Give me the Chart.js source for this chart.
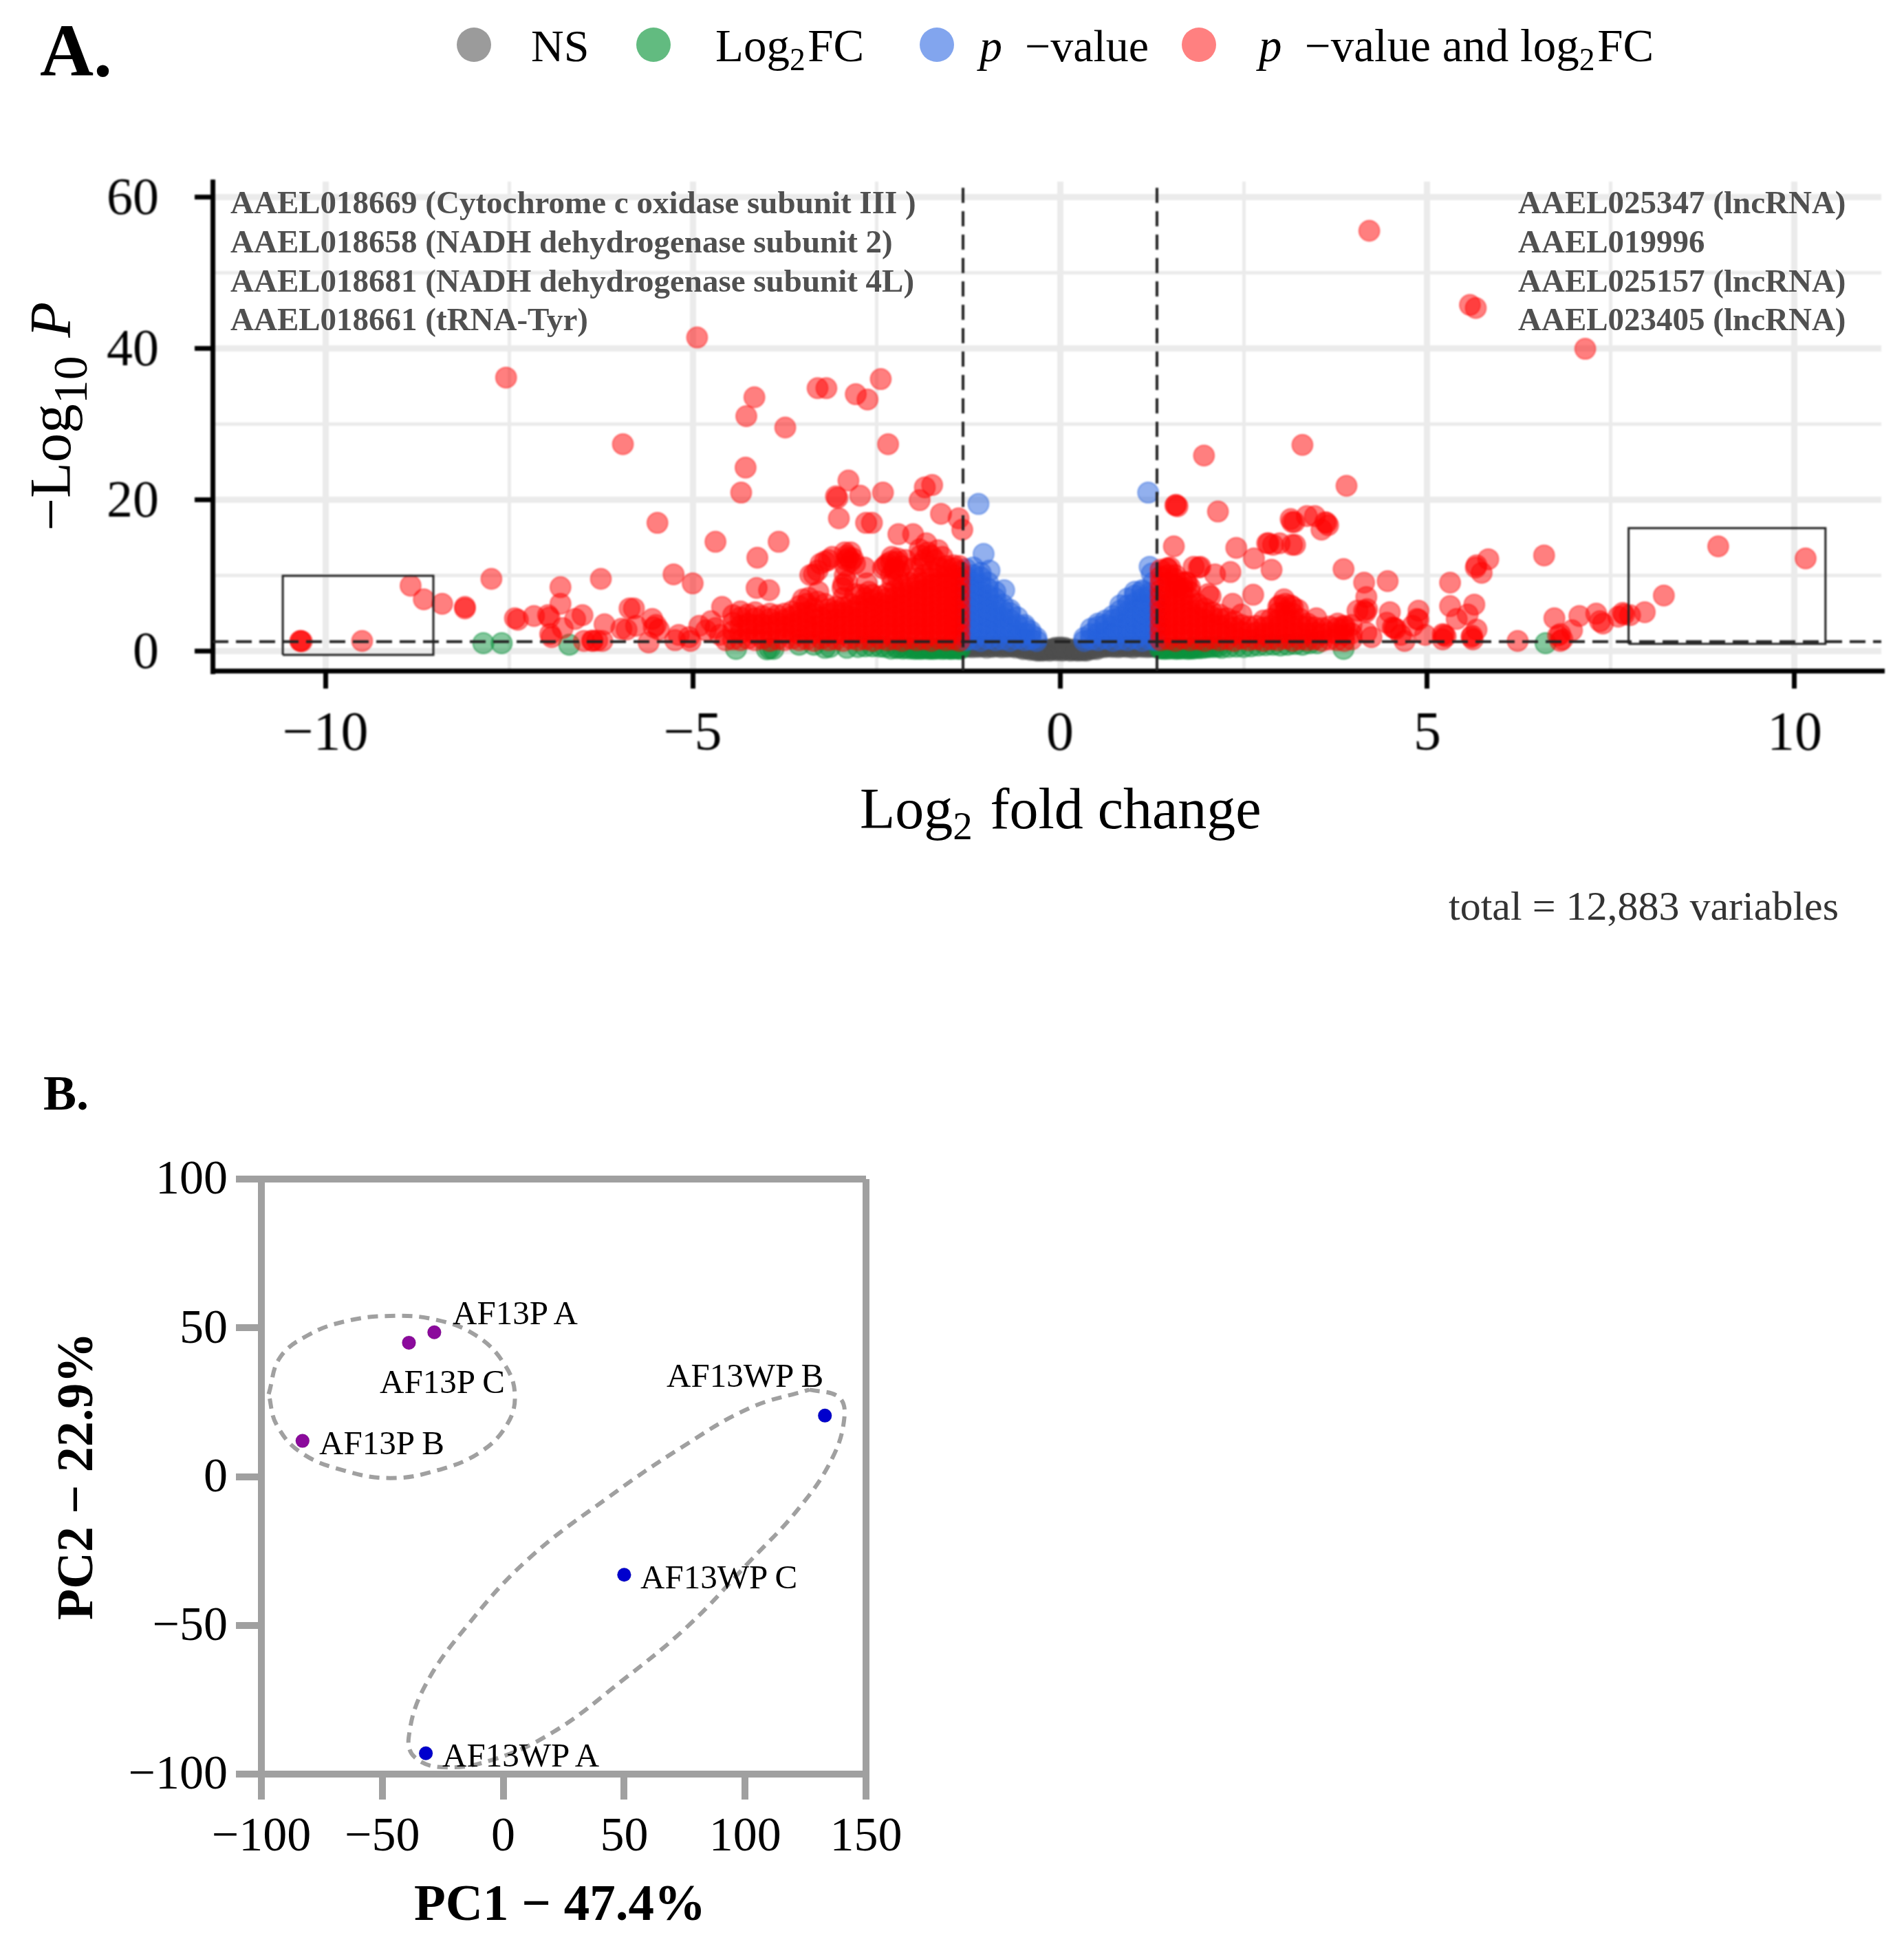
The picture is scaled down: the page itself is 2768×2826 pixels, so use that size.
<!DOCTYPE html>
<html>
<head>
<meta charset="utf-8">
<title>Volcano and PCA</title>
<script src="https://cdn.jsdelivr.net/npm/chart.js@4"></script>
<style>
html, body { margin: 0; padding: 0; background: #fff; }
body { position: relative; width: 2768px; height: 2826px; overflow: hidden; font-family: "Liberation Serif", serif; color: #000; }
canvas { position: absolute; left: 0; }
#volcano { top: 0; filter: blur(0.8px); }
#pca { top: 1450px; }
.t { position: absolute; white-space: nowrap; line-height: normal; }
.t sub { font-size: 68%; vertical-align: -0.28em; line-height: 0; margin-right: 0.08em; }
.t.big sub { font-size: 82%; vertical-align: -0.34em; }
.dot { position: absolute; width: 50px; height: 50px; border-radius: 50%; }
</style>
</head>
<body>
<canvas id="volcano" width="2768" height="1400"></canvas>
<canvas id="pca" width="2768" height="1376"></canvas>
<script>
// panel A values, [log2FC, -log10P]
var nsPoints = [
[-1.3,0.5],[-1.2,0.45],[-1.1,0.5],[-1,0.4],[-0.9,0.5],[-0.8,0.45],[-0.7,0.5],[-0.6,0.4],[-0.5,0.35],[-0.45,0.3],[-0.4,0.1],
[-0.32,0.05],[-0.25,0],[-0.2,0.1],[-0.15,0],[-0.1,0.2],[-0.06,0.4],[-0.03,0.1],[0,0.45],[0.03,0],[0.06,0.4],[0.1,0.15],[0.15,0],[0.2,0.1],[0.25,0],[0.3,0.05],[0.36,0],
[0.42,0.2],[0.5,0.4],[0.6,0.45],[0.7,0.5],[0.8,0.45],[0.9,0.5],[1,0.4],[1.1,0.5],[1.2,0.45],[1.3,0.5],
[-1.25,0.55],[-1.05,0.55],[-0.85,0.6],[-0.65,0.55],[0.65,0.55],[0.85,0.55],[1.05,0.6],[1.25,0.55],
[-1.28,0.5],[-1.15,0.5],[-0.95,0.5],[-0.75,0.5],[-0.55,0.45],[0.55,0.45],[0.75,0.5],[0.95,0.5],[1.15,0.5],[1.28,0.5],
[-1.22,0.6],[-1.12,0.6],[-1.02,0.6],[-0.92,0.6],[-0.82,0.6],[-0.72,0.6],[-0.62,0.6],[0.62,0.6],[0.72,0.6],[0.82,0.6],[0.92,0.6],[1.02,0.6],[1.12,0.6],[1.22,0.6],
[-0.3,0],[-0.27,0.1],[-0.22,0.05],[-0.18,0.2],[-0.12,0.05],[-0.08,0.3],[-0.05,0.05],[-0.02,0.35],[0.02,0.35],[0.05,0.1],[0.08,0.3],[0.12,0.05],[0.18,0.2],[0.22,0.05],[0.28,0.1],[0.33,0.05],[-0.35,0.15],[0.38,0.15],[-0.42,0.25],[0.45,0.25],[-0.5,0.2],[0.5,0.2]
];
var log2fcPoints = [
[-7.85,1],[-7.6,1],[-6.68,0.8],[-4.41,0.25],[-3.99,0.2],[-3.95,0.3],[-3.9,0.25],[-3.55,0.8],[-3.35,0.8],[-3.2,0.4],[-3.13,0.5],[-2.9,0.4],[-2.75,0.5],[-2.65,0.6],[-2.55,0.6],[-2.45,0.55],[-2.38,0.5],
[-2.3,0.3],[-2.22,0.35],[-2.14,0.3],[-2.05,0.3],[-1.98,0.25],[-1.9,0.25],[-1.84,0.3],[-1.78,0.25],[-1.72,0.25],[-1.66,0.3],[-1.6,0.25],[-1.54,0.3],[-1.48,0.25],[-1.42,0.3],[-1.36,0.25],
[-2.2,0.45],[-2,0.4],[-1.8,0.4],[-1.6,0.45],[-1.4,0.4],[-2.1,0.4],[-1.94,0.3],[-1.87,0.35],[-1.75,0.3],[-1.68,0.35],[-1.57,0.35],[-1.5,0.3],[-1.44,0.35],[-1.38,0.3],
[1.36,0.3],[1.42,0.25],[1.5,0.3],[1.58,0.25],[1.66,0.3],[1.74,0.25],[1.82,0.3],[1.9,0.35],[2,0.45],[2.1,0.5],[2.2,0.4],[2.3,0.5],[2.4,0.55],[2.5,0.5],[2.6,0.6],[2.7,0.7],[2.8,0.75],[2.9,0.8],[3,0.7],[3.1,0.8],[3.2,0.9],[3.3,0.8],[3.4,1],[3.5,1],
[3.86,0.25],[6.61,1],
[1.4,0.4],[1.6,0.4],[1.8,0.45],[2.15,0.55],[1.38,0.35],[1.46,0.3],[1.54,0.35],[1.62,0.3],[1.7,0.35],[1.78,0.3],[1.86,0.4],[1.95,0.4],[2.05,0.5]
];
var pvaluePoints = [
[-1.11,19.4],[-1.04,12.8],[-0.96,10.6],[-0.76,8],[1.2,20.9],[1.22,11.1],[1.25,10.2],[1.27,9],
[-1.28,1.4],[-1.28,2.4],[-1.28,3.3],[-1.28,4.3],[-1.28,5.2],[-1.28,6.1],[-1.28,7.1],[-1.28,8],[-1.28,8.9],[-1.28,9.8],[-1.28,10.8],
[-1.18,1.5],[-1.18,2.5],[-1.18,3.5],[-1.18,4.4],[-1.18,5.3],[-1.18,6.3],[-1.18,7.2],[-1.18,8.1],[-1.18,9],[-1.18,10],[-1.18,11],
[-1.08,1.3],[-1.08,2.2],[-1.08,3.2],[-1.08,4.1],[-1.08,5],[-1.08,6],[-1.08,6.9],[-1.08,7.8],[-1.08,8.7],[-1.08,9.7],[-1.08,10.3],
[-0.98,1.6],[-0.98,2.6],[-0.98,3.5],[-0.98,4.5],[-0.98,5.4],[-0.98,6.3],[-0.98,7.3],[-0.98,8.2],[-0.98,9],
[-0.88,1.4],[-0.88,2.3],[-0.88,3.3],[-0.88,4.2],[-0.88,5.1],[-0.88,6],[-0.88,6.9],[-0.88,7.8],
[-0.78,1.5],[-0.78,2.5],[-0.78,3.4],[-0.78,4.4],[-0.78,5.3],[-0.78,6.1],
[-0.68,1.3],[-0.68,2.2],[-0.68,3.2],[-0.68,4.1],[-0.68,5],[-0.68,5.4],
[-0.58,1.6],[-0.58,2.5],[-0.58,3.4],[-0.58,4.4],
[-0.48,1.4],[-0.48,2.3],[-0.48,3.1],[-0.48,3.4],
[-0.4,1.5],[-0.4,2.2],[-0.4,2.6],[-0.32,1.3],[-0.32,1.7],
[0.33,1.3],[0.33,1.7],[0.42,1.5],[0.42,2.2],[0.42,2.9],
[0.52,1.4],[0.52,2.3],[0.52,3.2],[0.52,3.6],
[0.62,1.6],[0.62,2.5],[0.62,3.4],[0.62,4],
[0.72,1.3],[0.72,2.2],[0.72,3.2],[0.72,4.1],[0.72,4.6],
[0.82,1.5],[0.82,2.5],[0.82,3.4],[0.82,4.4],[0.82,5.3],[0.82,6],
[0.92,1.4],[0.92,2.3],[0.92,3.3],[0.92,4.2],[0.92,5.1],[0.92,6],[0.92,6.9],
[1.02,1.6],[1.02,2.6],[1.02,3.5],[1.02,4.5],[1.02,5.4],[1.02,6.3],[1.02,7.3],[1.02,7.8],
[1.12,1.3],[1.12,2.2],[1.12,3.2],[1.12,4.1],[1.12,5],[1.12,6],[1.12,6.9],[1.12,7.8],[1.12,8],
[1.22,1.5],[1.22,2.5],[1.22,3.4],[1.22,4.4],[1.22,5.3],[1.22,6.2],[1.22,7.2],[1.22,7.6],
[1.3,1.4],[1.3,2.3],[1.3,3.3],[1.3,4.2],[1.3,5.1],[1.3,6],[1.3,6.9]
];
var bothPoints = [
// far left
[-10.34,1.3],[-10.34,1.3],[-10.32,1.25],[-9.5,1.3],[-8.84,8.6],[-8.66,6.8],[-8.41,6.2],[-8.1,5.8],[-8.1,5.6],[-7.74,9.5],[-7.54,36.1],
[-7.42,4.3],[-7.38,4.1],[-7.16,4.6],[-6.97,4.7],[-6.95,4.4],[-6.94,2.2],[-6.92,1.8],[-6.8,8.4],[-6.8,6.2],[-6.77,3],[-6.6,4.2],[-6.5,4.7],
[-6.48,1.3],[-6.37,1.35],[-6.36,1.3],[-6.3,1.35],[-6.23,1.3],[-6.25,9.5],[-6.2,3.5],[-5.97,2.9],[-5.95,27.3],[-5.86,5.6],
[-5.8,5.6],[-5.77,3.3],[-5.9,2.8],[-5.6,1.1],[-5.55,4.2],[-5.53,3.1],[-5.5,3.4],[-5.46,2.8],[-5.48,16.9],[-5.26,10.1],[-5.24,1.4],[-5.19,2.1],[-5.05,1.8],[-5.03,1.3],[-5,8.9],
[-4.91,3.3],[-4.94,41.4],[-4.82,2.7],[-4.75,3.9],[-4.69,3],[-4.69,14.4],[-4.63,2.1],[-4.6,5.8],[-4.55,1.4],
[-4.34,20.9],[-4.28,24.2],[-4.27,31],[-4.12,12.3],[-4.13,8.3],[-4.16,33.5],[-3.96,8],[-3.83,14.4],[-3.74,29.5],
[-3.35,10.1],[-3.29,7.8],[-3.26,11.5],[-3.3,34.7],[-3.18,34.7],[-3.1,12.4],[-3.05,20.4],[-3.03,20.2],[-3.01,17.5],[-2.96,8.3],[-2.93,13],[-2.93,10],[-2.91,12],[-2.88,22.5],[-2.85,13],[-2.85,11.8],
[-2.79,11.5],[-2.79,7.5],[-2.78,33.9],[-2.72,20.5],[-2.66,11],[-2.63,8.9],[-2.64,16.9],[-2.56,16.9],[-2.62,33.2],[-2.41,20.9],[-2.41,10.9],[-2.38,11.2],[-2.44,35.9],[-2.34,27.3],
[-2.3,10],[-2.29,12.4],[-2.21,12.2],[-2.2,15.4],[-2.19,10.6],[-2.1,12],[-2,15.4],[-2,10.9],[-1.91,13.4],[-1.91,19.9],[-1.88,11.5],[-1.84,21.6],[-1.82,14.2],[-1.8,13],[-1.74,21.9],[-1.66,13.3],[-1.62,18.1],[-1.38,17.5],[-1.33,16],
[-3.5,6.8],[-3.42,7],[-3.3,6.5],[-3.2,6.2],[-2.95,7],[-2.6,7.8],[-2.7,7.4],[-3.4,10],[-3.3,10.6],[-3.2,11.8],[-3.15,12],[-2.9,12.6],[-2.88,12.3],[-2.82,12.2],[-2.92,11.2],[-2.9,9.2],[-2.95,8.8],
[-2.35,11.5],[-2.25,11],[-2.3,11.8],[-2.26,10.8],[-2.22,11.8],[-2.15,11.2],[-2.28,9],[-2.2,9.5],[-1.85,12],[-1.75,12.6],[-1.6,12.4],[-1.7,12],[-1.9,12.6],
// left mass
[-4.45,1.5],[-4.45,2.6],[-4.45,3.7],[-4.45,4.7],[-4.35,1.4],[-4.35,2.3],[-4.35,3.3],[-4.35,4.4],[-4.35,5.2],
[-4.25,1.6],[-4.25,2.7],[-4.25,3.6],[-4.25,4.8],[-4.15,1.4],[-4.15,2.2],[-4.15,3.4],[-4.15,4.3],[-4.15,5.1],
[-4.05,1.6],[-4.05,2.5],[-4.05,3.5],[-4.05,4.6],[-3.95,1.3],[-3.95,2.4],[-3.95,3.3],[-3.95,4.2],[-3.95,4.9],
[-3.85,1.5],[-3.85,2.7],[-3.85,3.7],[-3.85,4.7],[-3.75,1.4],[-3.75,2.3],[-3.75,3.2],[-3.75,4.1],[-3.75,4.9],
[-3.65,1.6],[-3.65,2.6],[-3.65,3.6],[-3.65,4.5],[-3.65,5.2],[-3.55,1.4],[-3.55,2.2],[-3.55,3.1],[-3.55,4],[-3.55,5],[-3.55,5.9],
[-3.45,1.5],[-3.45,2.5],[-3.45,3.4],[-3.45,4.3],[-3.45,5.1],[-3.45,6.2],[-3.35,1.3],[-3.35,2.3],[-3.35,3.2],[-3.35,4.2],[-3.35,4.9],[-3.35,5.6],
[-3.25,1.6],[-3.25,2.6],[-3.25,3.5],[-3.25,4.4],[-3.15,1.4],[-3.15,2.2],[-3.15,3.1],[-3.15,4],[-3.15,4.9],[-3.15,5.5],
[-3.05,1.5],[-3.05,2.4],[-3.05,3.3],[-3.05,4.2],[-3.05,5.2],[-3.05,5.8],[-2.95,1.3],[-2.95,2.2],[-2.95,3.2],[-2.95,4.1],[-2.95,5],[-2.95,5.7],
[-2.85,1.6],[-2.85,2.6],[-2.85,3.5],[-2.85,4.5],[-2.85,5.3],[-2.85,6.2],[-2.75,1.4],[-2.75,2.3],[-2.75,3.2],[-2.75,4.2],[-2.75,5.1],[-2.75,5.9],
[-2.65,1.5],[-2.65,2.5],[-2.65,3.4],[-2.65,4.4],[-2.65,5.3],[-2.65,6.3],[-2.65,7],[-2.55,1.3],[-2.55,2.2],[-2.55,3.1],[-2.55,4],[-2.55,5],[-2.55,5.8],[-2.55,6.7],[-2.55,7.4],
[-2.45,1.6],[-2.45,2.6],[-2.45,3.5],[-2.45,4.5],[-2.45,5.4],[-2.45,6.3],[-2.45,7.2],[-2.35,1.4],[-2.35,2.3],[-2.35,3.3],[-2.35,4.2],[-2.35,5.1],[-2.35,6],[-2.35,6.9],[-2.35,7.6],
[-2.25,1.5],[-2.25,2.5],[-2.25,3.4],[-2.25,4.4],[-2.25,5.3],[-2.25,6.2],[-2.25,7.1],[-2.25,8],[-2.15,1.3],[-2.15,2.2],[-2.15,3.2],[-2.15,4.1],[-2.15,5],[-2.15,5.9],[-2.15,6.8],[-2.15,7.7],[-2.15,8.5],
[-2.05,1.6],[-2.05,2.6],[-2.05,3.5],[-2.05,4.5],[-2.05,5.4],[-2.05,6.3],[-2.05,7.2],[-2.05,8.2],[-2.05,9],[-1.95,1.4],[-1.95,2.3],[-1.95,3.3],[-1.95,4.2],[-1.95,5.1],[-1.95,6.1],[-1.95,7],[-1.95,7.9],[-1.95,8.8],[-1.95,9.6],
[-1.85,1.5],[-1.85,2.5],[-1.85,3.4],[-1.85,4.4],[-1.85,5.3],[-1.85,6.2],[-1.85,7.2],[-1.85,8.1],[-1.85,9],[-1.85,10],[-1.75,1.3],[-1.75,2.2],[-1.75,3.2],[-1.75,4.1],[-1.75,5],[-1.75,5.9],[-1.75,6.9],[-1.75,7.8],[-1.75,8.7],[-1.75,9.6],[-1.75,10.5],
[-1.65,1.6],[-1.65,2.6],[-1.65,3.5],[-1.65,4.5],[-1.65,5.4],[-1.65,6.3],[-1.65,7.3],[-1.65,8.2],[-1.65,9.1],[-1.65,10],[-1.65,11],[-1.55,1.4],[-1.55,2.3],[-1.55,3.3],[-1.55,4.2],[-1.55,5.1],[-1.55,6],[-1.55,7],[-1.55,7.9],[-1.55,8.8],[-1.55,9.7],[-1.55,10.7],[-1.55,11.2],
[-1.45,1.5],[-1.45,2.5],[-1.45,3.4],[-1.45,4.4],[-1.45,5.3],[-1.45,6.2],[-1.45,7.2],[-1.45,8.1],[-1.45,9],[-1.45,10],[-1.45,10.9],[-1.45,11.3],[-1.37,1.3],[-1.37,2.2],[-1.37,3.2],[-1.37,4.1],[-1.37,5],[-1.37,5.9],[-1.37,6.9],[-1.37,7.8],[-1.37,8.7],[-1.37,9.6],[-1.37,10.5],[-1.37,11.2],
// right mass
[1.37,1.4],[1.37,2.4],[1.37,3.3],[1.37,4.3],[1.37,5.2],[1.37,6.1],[1.37,7.1],[1.37,8],[1.37,8.9],[1.37,9.8],[1.37,10.7],
[1.47,1.5],[1.47,2.5],[1.47,3.5],[1.47,4.4],[1.47,5.3],[1.47,6.2],[1.47,7.2],[1.47,8.1],[1.47,9],[1.47,10],[1.47,10.8],
[1.57,1.3],[1.57,2.2],[1.57,3.2],[1.57,4.1],[1.57,5],[1.57,6],[1.57,6.9],[1.57,7.8],[1.57,8.7],[1.57,9.5],
[1.67,1.6],[1.67,2.6],[1.67,3.5],[1.67,4.5],[1.67,5.4],[1.67,6.3],[1.67,7.3],[1.67,8.2],[1.67,9],
[1.77,1.4],[1.77,2.3],[1.77,3.3],[1.77,4.2],[1.77,5.1],[1.77,6],[1.77,6.9],[1.77,7.8],[1.77,8.4],
[1.87,1.5],[1.87,2.5],[1.87,3.4],[1.87,4.4],[1.87,5.3],[1.87,6.2],[1.97,1.3],[1.97,2.2],[1.97,3.2],[1.97,4.1],[1.97,5],[1.97,5.6],
[2.07,1.6],[2.07,2.6],[2.07,3.5],[2.07,4.5],[2.07,5.1],[2.17,1.4],[2.17,2.3],[2.17,3.3],[2.17,4.2],[2.17,4.8],
[2.27,1.5],[2.27,2.5],[2.27,3.4],[2.27,4.3],[2.37,1.3],[2.37,2.2],[2.37,3.1],[2.37,3.9],[2.47,1.6],[2.47,2.5],[2.47,3.4],
[2.57,1.4],[2.57,2.3],[2.57,3.2],[2.67,1.5],[2.67,2.4],[2.67,3.3],[2.77,1.3],[2.77,2.2],[2.77,3.1],[2.77,4],
[2.87,1.5],[2.87,2.4],[2.87,3.3],[2.87,4.2],[2.97,1.4],[2.97,2.3],[2.97,3.2],[2.97,4.1],[2.97,5],[2.97,5.8],
[3.07,1.6],[3.07,2.5],[3.07,3.4],[3.07,4.3],[3.07,5.2],[3.07,6.2],[3.17,1.3],[3.17,2.2],[3.17,3.1],[3.17,4],[3.17,4.9],[3.17,5.8],
[3.27,1.5],[3.27,2.4],[3.27,3.3],[3.27,4.2],[3.37,1.4],[3.37,2.3],[3.37,3.2],[3.37,3.6],[3.47,1.5],[3.47,2.4],[3.47,3.1],
[3.57,1.3],[3.57,2.2],[3.57,3],[3.67,1.5],[3.67,2.4],[3.67,3.2],[3.77,1.4],[3.77,2.2],[3.77,3],[3.87,1.3],[3.87,2.1],[3.87,2.9],[3.97,1.5],[3.97,2.3],[3.97,3.4],
// right side
[1.46,10.9],[1.5,11],[1.55,13.8],[1.57,19.2],[1.58,19.3],[1.6,19.1],[1.57,10],[1.61,8.4],[1.71,9.1],[1.73,9],[1.82,11.1],[1.89,11],[1.91,11.1],[1.96,25.8],[2.02,7.5],[2.05,7.2],[2.11,10.1],[2.15,18.4],[2.32,10.4],[2.35,6.2],[2.4,13.6],[2.47,4.8],[2.63,7.4],[2.64,12.2],[2.82,14.2],[2.84,14.2],[2.88,10.7],[2.9,14],[2.99,14.2],[2.99,6],[3.05,6.8],[3.14,6],[3.14,17.4],[3.16,17],[3.16,14],[3.19,17],[3.2,14],[3.24,5.4],[3.3,27.2],[3.36,17.8],
[3.47,17.8],[3.49,4.3],[3.56,16],[3.63,16.9],[3.65,16.6],[3.61,17],[3.78,3.6],[3.86,10.8],[3.86,3.3],[3.88,3.2],[3.9,21.8],
[4.05,5.3],[4.14,9],[4.14,5.3],[4.16,5.1],[4.17,7.1],[4.17,2.4],[4.18,5.5],[4.21,55.5],[4.24,1.8],[4.45,3.7],[4.46,9.2],[4.49,5.1],[4.55,3],[4.57,2.9],[4.53,3.1],[4.64,2.1],[4.69,1.3],[4.8,3.3],[4.86,4.2],[4.88,4.1],[4.88,5.3],[4.97,2.1],
[5.21,1.5],[5.23,2.1],[5.25,1.9],[5.21,2.2],[5.31,9],[5.31,5.9],[5.4,4.2],[5.55,4.8],[5.6,1.8],[5.62,1.5],[5.61,2],[5.58,45.7],[5.64,6.1],[5.66,11],[5.67,11.3],[5.67,2.8],[5.66,45.3],[5.74,10.3],[5.83,12.1],
[6.23,1.3],[6.59,12.6],[6.73,4.3],[6.78,2],[6.81,2.2],[6.84,1.5],[6.81,1.3],[6.97,2.7],[7.07,4.6],[7.15,39.9],[7.3,4.9],[7.35,3.9],[7.39,3.6],[7.6,4.5],[7.66,5],[7.68,4.8],[7.76,4.7],[7.96,5.1],[8.22,7.3],[8.96,13.8],[10.15,12.2]
];
var xThreshold = 1.32;
var yThreshold = 1.2;
var xLimits = [-11.536, 11.18];
var yLimits = [-2.636, 62];
var leftBoxX = [-10.58, -8.53, -8.53, -10.58, -10.58];
var leftBoxY = [-0.55, -0.55, 9.9, 9.9, -0.55];
var rightBoxX = [7.74, 10.42, 10.42, 7.74, 7.74];
var rightBoxY = [0.9, 0.9, 16.2, 16.2, 0.9];

// panel B values
var purpleNames = ['AF13P A', 'AF13P B', 'AF13P C'];
var purpleX = [-28.5, -83, -39];
var purpleY = [48.5, 12, 45];
var blueNames = ['AF13WP A', 'AF13WP B', 'AF13WP C'];
var blueX = [-32, 133, 50];
var blueY = [-93, 20.5, -33];
var ring1 = [[-97,27.7],[-92.4,39.9],[-81,47.4],[-65.7,52.1],[-46.7,54],[-27.7,52.7],[-11.2,47.4],[0.3,38],[4.8,27.7],[1.5,17.4],[-9.9,8],[-27.7,2],[-46.7,-0.5],[-65.7,2],[-83.5,8],[-93.7,17.4],[-97,27.7]];
var ring2 = [[126.6,29.2],[138.6,26.8],[141.1,20.2],[136,6.1],[122.1,-10.8],[101.8,-28.6],[76.4,-50.2],[48.5,-69],[20.6,-85.9],[-4.8,-95.3],[-25.1,-97.7],[-36.5,-94.4],[-39.1,-87.8],[-32.7,-70.9],[-15,-50.2],[10.4,-27.7],[43.4,-7],[73.9,9.9],[101.8,23],[126.6,29.2]];

function toXY(pairs) {
	return pairs.map(function(p) { return { x: p[0], y: p[1] }; });
}
function zipXY(xs, ys) {
	return xs.map(function(x, i) { return { x: x, y: ys[i] }; });
}
function minusSign(v) {
	return String(v).replace('-', '\u2212');
}

function cloud(points, fill, edge, order) {
	return {
		data: toXY(points),
		backgroundColor: fill,
		borderColor: edge,
		borderWidth: 2,
		pointRadius: 15,
		pointHoverRadius: 15,
		order: order
	};
}
function guide(data, width, dash, order) {
	return {
		data: data,
		showLine: true,
		borderColor: '#222',
		borderWidth: width,
		borderDash: dash,
		pointRadius: 0,
		fill: false,
		order: order
	};
}

new Chart(document.getElementById('volcano'), {
	type: 'scatter',
	data: {
		datasets: [
			cloud(nsPoints, 'rgba(77,77,77,0.5)', 'rgba(77,77,77,0.35)', 8),
			cloud(log2fcPoints, 'rgba(10,145,60,0.5)', 'rgba(10,145,60,0.55)', 7),
			cloud(pvaluePoints, 'rgba(37,98,222,0.5)', 'rgba(37,98,222,0.45)', 6),
			cloud(bothPoints, 'rgba(255,0,0,0.5)', 'rgba(255,0,0,0.4)', 5),
			guide([{ x: xLimits[0], y: yThreshold }, { x: xLimits[1], y: yThreshold }], 4, [23, 11], 2),
			guide([{ x: -xThreshold, y: yLimits[0] }, { x: -xThreshold, y: yLimits[1] }], 4, [22, 12], 2),
			guide([{ x: xThreshold, y: yLimits[0] }, { x: xThreshold, y: yLimits[1] }], 4, [22, 12], 2),
			guide(zipXY(leftBoxX, leftBoxY), 3, [], 1),
			guide(zipXY(rightBoxX, rightBoxY), 3, [], 1)
		]
	},
	options: {
		responsive: false,
		animation: false,
		layout: { autoPadding: false, padding: { left: 0, top: 264, right: 33, bottom: 0 } },
		plugins: { legend: { display: false }, tooltip: { enabled: false } },
		scales: {
			x: {
				type: 'linear', min: xLimits[0], max: xLimits[1],
				afterFit: function(scale) { scale.height = 425; },
				border: { color: '#000', width: 7 },
				grid: {
					color: '#ebebeb',
					lineWidth: function(c) { return c.tick.value % 5 === 0 ? 9 : 5; },
					tickColor: function(c) { return c.tick.value % 5 === 0 ? '#000' : 'rgba(0,0,0,0)'; },
					tickWidth: 7,
					tickLength: 26
				},
				ticks: {
					stepSize: 2.5, includeBounds: false, autoSkip: false, maxRotation: 0, padding: 20,
					color: '#000', font: { family: 'Liberation Serif', size: 80 },
					callback: function(v) { return v % 5 === 0 ? minusSign(v) : ''; }
				}
			},
			y: {
				type: 'linear', min: yLimits[0], max: yLimits[1],
				afterFit: function(scale) { scale.width = 309; },
				border: { color: '#000', width: 7 },
				grid: {
					color: '#ebebeb',
					lineWidth: function(c) { return c.tick.value % 20 === 0 ? 9 : 5; },
					tickColor: function(c) { return c.tick.value % 20 === 0 ? '#000' : 'rgba(0,0,0,0)'; },
					tickWidth: 7,
					tickLength: 26
				},
				ticks: {
					stepSize: 10, includeBounds: false, autoSkip: false, padding: 52, labelOffset: 5,
					color: '#000', font: { family: 'Liberation Serif', size: 76 },
					callback: function(v) { return v % 20 === 0 ? minusSign(v) : ''; }
				}
			}
		}
	}
});

new Chart(document.getElementById('pca'), {
	type: 'scatter',
	data: {
		datasets: [
			{ data: zipXY(purpleX, purpleY), backgroundColor: '#8b0a9c', pointRadius: 10, order: 1 },
			{ data: zipXY(blueX, blueY), backgroundColor: '#0000cd', pointRadius: 10, order: 1 },
			{ data: toXY(ring1), showLine: true, borderColor: '#a0a0a0', borderWidth: 6, borderDash: [15, 10], tension: 0.4, pointRadius: 0, order: 2 },
			{ data: toXY(ring2), showLine: true, borderColor: '#a0a0a0', borderWidth: 6, borderDash: [15, 10], tension: 0.4, pointRadius: 0, order: 2 }
		]
	},
	options: {
		responsive: false,
		animation: false,
		layout: { autoPadding: false, padding: { left: 0, top: 264, right: 1509, bottom: 0 } },
		plugins: { legend: { display: false }, tooltip: { enabled: false } },
		scales: {
			x: {
				type: 'linear', min: -100, max: 150,
				afterFit: function(scale) { scale.height = 247; },
				border: { color: '#a0a0a0', width: 10 },
				grid: {
					color: function(c) { return c.tick.value === 150 ? '#a0a0a0' : 'rgba(0,0,0,0)'; },
					lineWidth: 10, tickColor: '#a0a0a0', tickWidth: 10, tickLength: 37
				},
				ticks: {
					stepSize: 50, autoSkip: false, maxRotation: 0, padding: 14,
					color: '#000', font: { family: 'Liberation Serif', size: 70 },
					callback: function(v) { return minusSign(v); }
				}
			},
			y: {
				type: 'linear', min: -100, max: 100,
				afterFit: function(scale) { scale.width = 380; },
				border: { color: '#a0a0a0', width: 10 },
				grid: {
					color: function(c) { return c.tick.value === 100 ? '#a0a0a0' : 'rgba(0,0,0,0)'; },
					lineWidth: 10, tickColor: '#a0a0a0', tickWidth: 10, tickLength: 37
				},
				ticks: {
					stepSize: 50, autoSkip: false, padding: 12, labelOffset: 3,
					color: '#000', font: { family: 'Liberation Serif', size: 70 },
					callback: function(v) { return minusSign(v); }
				}
			}
		}
	}
});

// all other text sits over the canvases, left and baseline in page px
function addText(html, left, baseline, size, css) {
	var el = document.createElement('div');
	el.className = 't';
	el.innerHTML = html;
	el.style.left = left + 'px';
	el.style.top = (baseline - size * 0.905) + 'px';
	el.style.fontSize = size + 'px';
	if (css) el.style.cssText += css;
	document.body.appendChild(el);
	return el;
}
function addDot(cx, cy, color) {
	var el = document.createElement('div');
	el.className = 'dot';
	el.style.left = (cx - 25) + 'px';
	el.style.top = (cy - 25) + 'px';
	el.style.background = color;
	document.body.appendChild(el);
}

addText('A.', 58, 110, 108, 'font-weight:bold');
addDot(689, 65, '#9b9b9b');
addDot(950, 65, '#62bb80');
addDot(1362, 65, '#82a5ee');
addDot(1743, 65, '#ff8080');
addText('NS', 772, 89, 66);
addText('Log<sub>2</sub>FC', 1040, 89, 67);
addText('<i>p</i>&nbsp; \u2212value', 1424, 89, 66);
addText('<i>p</i>&nbsp; \u2212value and log<sub>2</sub>FC', 1830, 89, 67);

var notesLeft = ['AAEL018669 (Cytochrome c oxidase subunit III )', 'AAEL018658 (NADH dehydrogenase subunit 2)', 'AAEL018681 (NADH dehydrogenase subunit 4L)', 'AAEL018661 (tRNA-Tyr)'];
var notesRight = ['AAEL025347 (lncRNA)', 'AAEL019996', 'AAEL025157 (lncRNA)', 'AAEL023405 (lncRNA)'];
var noteBaselines = [310, 367, 424, 480];
notesLeft.forEach(function(s, i) {
	addText(s, 335, noteBaselines[i], 47, 'font-weight:bold;color:#505050;filter:blur(0.6px)');
});
notesRight.forEach(function(s, i) {
	addText(s, 2207, noteBaselines[i], 47, 'font-weight:bold;color:#505050;filter:blur(0.6px)');
});

addText('Log<sub>2</sub> fold change', 1250, 1203, 84);
addText('total = 12,883 variables', 2106, 1337, 60, 'color:#333');
var yTitle = addText('\u2212Log<sub>10</sub> <i>P</i>', 24, 770, 85, 'transform-origin:0 0;transform:rotate(-90deg);top:772px');
yTitle.classList.add('big');

addText('B.', 63, 1613, 72, 'font-weight:bold');
addText('AF13P A', 658, 1924, 49);
addText('AF13P C', 552, 2024, 49);
addText('AF13P B', 464, 2113, 49);
addText('AF13WP B', 969, 2015, 49);
addText('AF13WP C', 931, 2308, 49);
addText('AF13WP A', 643, 2567, 49);
addText('PC1 \u2212 47.4%', 602, 2791, 75, 'font-weight:bold');
addText('PC2 \u2212 22.9%', 67, 2355, 74, 'font-weight:bold;transform-origin:0 0;transform:rotate(-90deg);top:2355px');
</script>
</body>
</html>
